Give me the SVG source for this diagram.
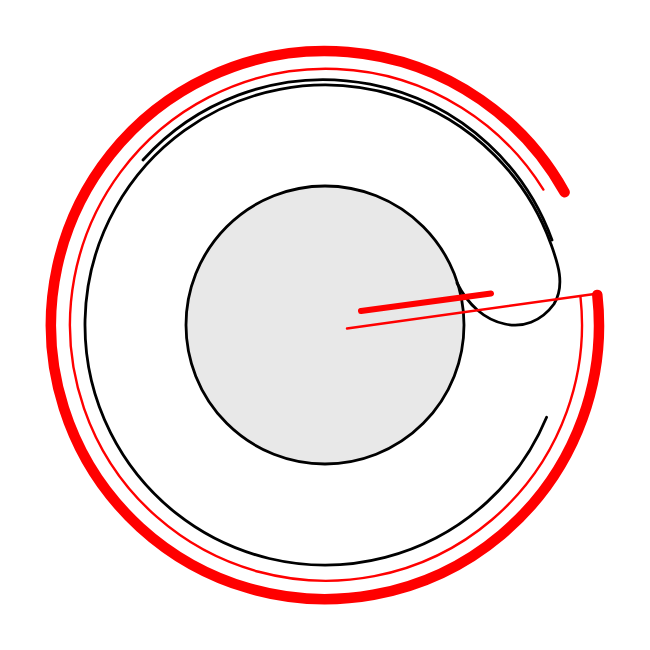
<svg xmlns="http://www.w3.org/2000/svg" width="650" height="650" viewBox="0 0 650 650">
  <style>
    .blk { fill: none; stroke: #000; stroke-width: 2.8; stroke-linecap: round; }
    .red-thick { fill: none; stroke: #ff0000; stroke-width: 10.5; stroke-linecap: round; }
    .red-thin { fill: none; stroke: #ff0000; stroke-width: 2.4; stroke-linecap: round; }
    .red-mid { fill: none; stroke: #ff0000; stroke-width: 6; stroke-linecap: round; }
  </style>
  <rect x="0" y="0" width="650" height="650" fill="#fff"/>
  <g id="hub">
    <circle cx="325" cy="325" r="139" fill="#e8e8e8" stroke="#000" stroke-width="2.8"/>
  </g>
  <g id="black-curves">
    <path class="blk" d="M143,160 A243,243 0 0 1 552,240"/>
    <path class="blk" d="M546.6,417.2 A240,240 0 1 1 550.5,242.9 C557,261 566,284 554,304 C541,322 522,328 505,324 C485,320 468,305 457,283"/>
  </g>
  <g id="red-curves">
    <path class="red-thick" d="M564.6,192.2 A274,274 0 1 0 597.3,294.9"/>
    <path class="red-thin" d="M543.4,189.6 A256,256 0 1 0 580.5,297.1"/>
    <line class="red-thin" x1="347" y1="328.5" x2="598" y2="293.5"/>
    <line class="red-mid" x1="361" y1="311" x2="491" y2="293.5"/>
  </g>
</svg>
